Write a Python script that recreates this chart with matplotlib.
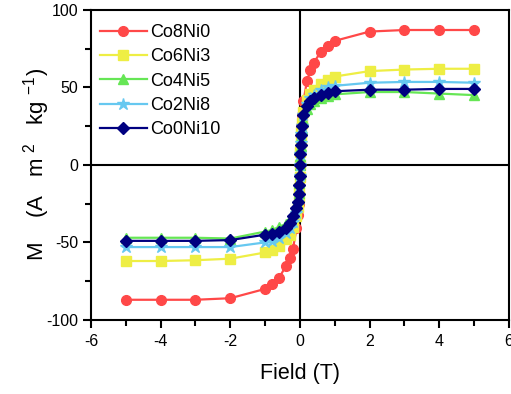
import matplotlib
matplotlib.use("Agg")
import matplotlib.pyplot as plt
from matplotlib.ticker import MultipleLocator

plt.rcParams['font.family'] = ['Liberation Sans', 'DejaVu Sans']
plt.rcParams['axes.unicode_minus'] = False
plt.rcParams['mathtext.fontset'] = 'custom'
plt.rcParams['mathtext.rm'] = 'Liberation Sans'
plt.rcParams['mathtext.default'] = 'regular'

field = [-5, -4, -3, -2, -1, -0.8, -0.6, -0.4, -0.3, -0.2, -0.1, -0.05, -0.03, -0.02, -0.01, 0,
         0.01, 0.02, 0.03, 0.05, 0.1, 0.2, 0.3, 0.4, 0.6, 0.8, 1, 2, 3, 4, 5]

co8ni0 = [-87, -87, -87, -86, -80, -77, -73, -65, -60, -54, -41, -32, -25, -18, -9, 0,
          9, 18, 25, 32, 41, 54, 61, 66, 73, 77, 80, 86, 87, 87, 87]
co6ni3 = [-62, -62, -61.5, -60.5, -56.5, -55, -52, -48, -45, -40, -33, -27, -21, -15, -8, 0,
          8, 15, 21, 27, 34, 42, 46, 48, 52, 55, 57, 60.5, 61.5, 62, 62]
co4ni5 = [-47, -47, -47, -47.5, -43, -42, -40, -38, -35, -31, -27, -22, -18, -12, -6, 0,
          6, 12, 18, 23, 29, 36, 39, 41, 43, 44.5, 45.5, 47, 47, 46, 45]
co2ni8 = [-53, -53, -53, -53, -50, -49, -47, -44, -41, -37, -31, -25, -20, -14, -7, 0,
          7, 14, 20, 25, 32, 39, 43, 45, 48, 50, 51, 53, 53.5, 53.5, 53]
co0ni10 = [-49, -49, -49, -48.5, -45, -44.5, -43.5, -41, -37.5, -33, -28, -24, -19, -13, -7, 0,
           7, 13, 19, 25, 32, 38, 41, 43, 45, 46.5, 47.5, 48.5, 48.5, 49, 49]

labels = ["Co8Ni0", "Co6Ni3", "Co4Ni5", "Co2Ni8", "Co0Ni10"]
series = [co8ni0, co6ni3, co4ni5, co2ni8, co0ni10]
colors = ["#ff4848", "#eeee44", "#66e655", "#66c8f0", "#000080"]
markers = ["o", "s", "^", "*", "D"]
msizes = [7, 6.5, 7.5, 9, 6]

fig = plt.figure(figsize=(5.11, 3.94), dpi=100)
ax = fig.add_axes([0.178, 0.188, 0.818, 0.787])

for y, lab, c, m, ms in zip(series, labels, colors, markers, msizes):
    ax.plot(field, y, color=c, marker=m, markersize=ms, lw=1.6, label=lab,
            markeredgecolor=c)

ax.axhline(0, color='black', lw=1.5, zorder=0)
ax.axvline(0, color='black', lw=1.5, zorder=0)

ax.set_xlim(-6, 6)
ax.set_ylim(-100, 100)
ax.xaxis.set_major_locator(MultipleLocator(2))
ax.xaxis.set_minor_locator(MultipleLocator(1))
ax.yaxis.set_major_locator(MultipleLocator(50))
ax.yaxis.set_minor_locator(MultipleLocator(25))
ax.tick_params(which='major', direction='out', length=6, width=1.5, labelsize=11.5)
ax.tick_params(axis='x', which='major', pad=4)
ax.tick_params(axis='y', which='major', pad=3)
ax.tick_params(which='minor', direction='out', length=4, width=1.5)
for s in ax.spines.values():
    s.set_linewidth(1.5)

ax.set_xlabel("Field (T)", fontsize=15.5, labelpad=10)
ax.set_ylabel("M    (A   m $^{2}$   kg $^{-1}$)", fontsize=16, labelpad=-4)

ax.legend(loc='upper left', bbox_to_anchor=(0.013, 0.9655), frameon=False,
          fontsize=13, handlelength=2.6, borderaxespad=0.0, borderpad=0.2,
          labelspacing=0.4, handletextpad=0.2)

fig.savefig("out.png", dpi=100)
